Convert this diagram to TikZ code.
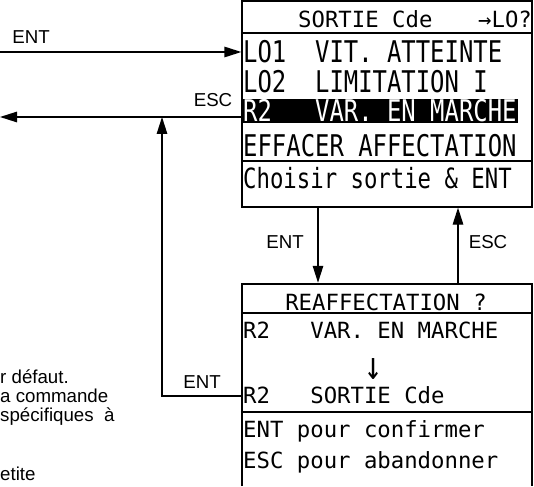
\documentclass[tikz,border=0pt]{standalone}
\usepackage{fontspec}
\setmainfont{Liberation Sans}
\newfontfamily\lcdfont{DejaVu Sans Mono}
\usepackage{tikz}
\usetikzlibrary{arrows.meta,positioning}

% tall LCD characters of the menu screen
\newcommand{\lcdtall}[1]{\scalebox{1}[1.25]{#1}}

\begin{document}
\begin{tikzpicture}[
  x=1pt, y=-1pt,
  every node/.style={font=\fontsize{18.7}{22}\selectfont},
  screen/.style={rectangle, draw=black, line width=1.3pt, inner sep=0pt},
  titlebar/.style={rectangle, draw=black, line width=2.5pt, inner sep=0pt},
  lcdrow/.style={anchor=base west, inner xsep=1pt, inner ysep=0pt, font=\lcdfont\fontsize{22.3}{24}\selectfont},
  lcdbig/.style={lcdrow, font=\lcdfont\fontsize{23.9}{26}\selectfont},
  keylabel/.style={inner sep=0pt},
  para/.style={anchor=base west, inner sep=0pt},
  arrow/.style={-{Triangle[length=17pt, width=10.5pt]}, line width=1.3pt}
]
\useasboundingbox (0,0) rectangle (534,486);

% --- MENU SCREEN ---
\node[screen, minimum width=290pt, minimum height=206pt] (menu) at (387,104) {};
\node[titlebar, minimum width=290pt, minimum height=32pt] (menutitle) at (387,17) {};
\node[lcdrow] (sortie) at (297,28) {SORTIE Cde};
\node[lcdrow] (query) at (477,28) {→LO?};
\node[lcdbig] (lo1) at (242,63) {\lcdtall{LO1~~VIT. ATTEINTE}};
\node[lcdbig] (lo2) at (242,93) {\lcdtall{LO2~~LIMITATION I}};
\node[lcdbig, fill=black, text=white, text height=23pt, text depth=1pt] (r2run) at (242,122) {\lcdtall{R2~~~VAR. EN MARCHE}};
\node[lcdbig] (effacer) at (242,157) {\lcdtall{EFFACER AFFECTATION}};
\draw[line width=2pt] (menu.west |- 0,161) -- (menu.east |- 0,161);
\node[lcdrow] (choisir) at (242,188) {\lcdtall{Choisir sortie \& ENT}};

% --- CONFIRMATION SCREEN ---
\draw[screen] (242,486) |- (532,284) -- (532,486);
\node[titlebar, minimum width=290pt, minimum height=29pt] (reatitle) at (387,298.5) {};
\node[lcdrow, anchor=base] (reaff) at (386,310) {REAFFECTATION ?};
\node[lcdrow] (r2old) at (242,338) {R2~~~VAR. EN MARCHE};
\node[lcdrow, anchor=base, font=\lcdfont\fontsize{30}{32}\selectfont] (down) at (374,379) {\scalebox{1}[1.3]{↓}};
\node[lcdrow] (r2new) at (242,403) {R2~~~SORTIE Cde};
\draw[line width=2pt] (reatitle.west |- 0,412) -- (reatitle.east |- 0,412);
\node[lcdrow] (confirm) at (242,437) {ENT pour confirmer};
\node[lcdrow] (abandon) at (242,468) {ESC pour abandonner};

% --- KEYS ---
\coordinate (entin) at (0,52);
\coordinate (escout) at (0,117);
\draw[arrow] (entin) -- (entin -| menu.west);
\node[keylabel] (entinlbl) at (31,37) {ENT};
\draw[arrow] (escout -| menu.west) -- (escout);
\node[keylabel] (escoutlbl) at (213,100) {ESC};

\draw[arrow] ([xshift=-69pt]menu.south) -- ([xshift=-69pt]reatitle.north);
\node[keylabel] (entdownlbl) at (285,242) {ENT};
\draw[arrow] ([xshift=71pt]reatitle.north) -- ([xshift=71pt]menu.south);
\node[keylabel] (escuplbl) at (488,242) {ESC};

\draw[arrow] (reatitle.west |- 0,396) -| ([xshift=162pt]escout);
\node[keylabel] (entbacklbl) at (202,382) {ENT};

% --- TEXT BESIDE ---
\node[para] (p1) at (0,383) {r défaut.};
\node[para] (p2) at (0,402) {a commande};
\node[para] (p3) at (0,421) {spécifiques~ à};
\node[para] (p4) at (0,480) {etite};

\end{tikzpicture}
\end{document}
